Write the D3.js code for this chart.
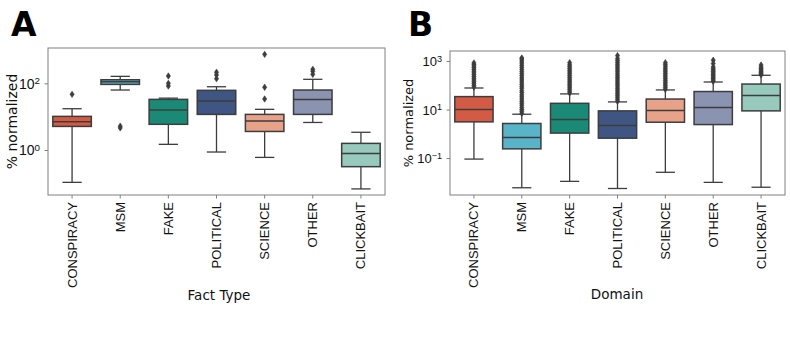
<!DOCTYPE html>
<html>
<head>
<meta charset="utf-8">
<script src="https://cdn.jsdelivr.net/npm/d3@7"></script>
<style>
  body { margin: 0; background: #fff; }
  svg { font-family: "DejaVu Sans", sans-serif; }
</style>
</head>
<body>
<div id="chart"></div>
<script>
const W = 790, H = 351;

const categories = ["CONSPIRACY", "MSM", "FAKE", "POLITICAL", "SCIENCE", "OTHER", "CLICKBAIT"];
const colors = ["#d35b45", "#59b3c9", "#1a8a76", "#3f5685", "#e8a28a", "#8a93b0", "#97c9bc"];

// panel A: Fact Type
const aWhiskLow = [0.107, 63, 1.48, 0.87, 0.6, 6.7, 0.068];
const aQ1 = [5.1, 93, 5.9, 11.7, 3.6, 11.7, 0.316];
const aMedian = [7.0, 112, 15.8, 29.3, 7.4, 33, 0.79];
const aQ3 = [10.2, 128, 33, 61.6, 11.7, 63, 1.58];
const aWhiskHigh = [17.3, 162, 36, 79, 16.6, 132, 3.4];
const aOutliers = [
  [46.8],
  [4.6, 5.2],
  [83, 100, 166],
  [138, 178, 214],
  [34, 76, 741],
  [186, 229, 263],
  []
];
const aTicks = [1, 100];

// panel B: Domain
const bWhiskLow = [0.091, 0.006, 0.011, 0.0056, 0.026, 0.01, 0.0063];
const bQ1 = [3.1, 0.24, 1.07, 0.66, 3.0, 2.4, 8.8];
const bMedian = [10, 0.71, 3.9, 2.2, 9.1, 12, 37.6];
const bQ3 = [34, 2.66, 18, 8.8, 27, 55, 112];
const bWhiskHigh = [77, 6.4, 44, 20.6, 64, 136, 257];
const bOutliers = [
  [85, 100, 120, 140, 165, 195, 230, 270, 320, 380, 450, 530, 620, 720, 830],
  [7, 8.5, 10, 12, 15, 18, 22, 27, 33, 40, 50, 60, 75, 90, 110, 135, 165, 200, 245, 300, 365, 450, 550, 670, 820, 1000, 1200, 1320],
  [48, 56, 66, 78, 92, 108, 128, 150, 178, 210, 250, 295, 350, 410, 490, 580, 690, 850],
  [22, 26, 31, 37, 44, 52, 62, 74, 88, 105, 125, 150, 180, 215, 255, 305, 365, 435, 520, 620, 740, 880, 1050, 1250, 1660],
  [68, 80, 95, 112, 132, 156, 185, 220, 260, 305, 360, 425, 500, 600, 710, 850],
  [145, 165, 190, 215, 245, 280, 320, 365, 420, 480, 560, 780, 1070],
  [270, 300, 340, 380, 430, 490, 560, 680]
];
const bTicks = [0.1, 10, 1000];

const lineColor = "#3d3d3d";

const svg = d3.select("#chart").append("svg")
  .attr("width", W).attr("height", H);

function drawPanel(opt) {
  const {x0, x1, y0, y1, domain, ticks, data, xLabel, xLabelX, xLabelY, yLabelX, letter, letterX, yFont} = opt;

  const x = d3.scaleBand().domain(categories).range([x0, x1]);
  const y = d3.scaleLog().domain(domain).range([y1, y0]);
  const g = svg.append("g");

  // frame
  g.append("rect")
    .attr("x", x0).attr("y", y0)
    .attr("width", x1 - x0).attr("height", y1 - y0)
    .attr("fill", "none").attr("stroke", "#808080").attr("stroke-width", 1);

  // y axis
  const yAxis = g.append("g").attr("transform", `translate(${x0},0)`)
    .call(d3.axisLeft(y).tickValues(ticks).tickSize(3.5).tickPadding(3).tickFormat(""));
  yAxis.select(".domain").remove();
  yAxis.selectAll(".tick line").attr("stroke", "#808080");
  yAxis.selectAll(".tick").each(function(d) {
    const e = Math.round(Math.log10(d));
    const t = d3.select(this).append("text")
      .attr("x", -8).attr("dy", "0.35em")
      .attr("text-anchor", "end")
      .attr("fill", "#111")
      .style("font-size", yFont + "px");
    t.append("tspan").text("10");
    t.append("tspan")
      .attr("dy", "-0.45em")
      .style("font-size", (yFont * 0.7) + "px")
      .text(e < 0 ? "\u2212" + Math.abs(e) : e);
  });

  // x axis
  const xAxis = g.append("g").attr("transform", `translate(0,${y1})`)
    .call(d3.axisBottom(x).tickSize(3.5).tickPadding(4));
  xAxis.select(".domain").remove();
  xAxis.selectAll(".tick line").attr("stroke", "#808080");
  xAxis.selectAll(".tick text")
    .attr("transform", "rotate(-90)")
    .attr("text-anchor", "end")
    .attr("x", -7).attr("y", 0).attr("dy", "0.35em")
    .attr("fill", "#111")
    .style("font-size", "13px");

  // boxes
  const bw = x.bandwidth() * 0.8;
  categories.forEach((c, i) => {
    const cx = x(c) + x.bandwidth() / 2;
    const bx = g.append("g");
    bx.append("line")
      .attr("x1", cx).attr("x2", cx)
      .attr("y1", y(data.q3[i])).attr("y2", y(data.hi[i]))
      .attr("stroke", lineColor).attr("stroke-width", 1.3);
    bx.append("line")
      .attr("x1", cx).attr("x2", cx)
      .attr("y1", y(data.q1[i])).attr("y2", y(data.lo[i]))
      .attr("stroke", lineColor).attr("stroke-width", 1.3);
    [data.hi[i], data.lo[i]].forEach(v => {
      bx.append("line")
        .attr("x1", cx - bw / 4).attr("x2", cx + bw / 4)
        .attr("y1", y(v)).attr("y2", y(v))
        .attr("stroke", lineColor).attr("stroke-width", 1.3);
    });
    bx.append("rect")
      .attr("x", cx - bw / 2).attr("width", bw)
      .attr("y", y(data.q3[i])).attr("height", y(data.q1[i]) - y(data.q3[i]))
      .attr("fill", colors[i]).attr("stroke", lineColor).attr("stroke-width", 1.5);
    bx.append("line")
      .attr("x1", cx - bw / 2).attr("x2", cx + bw / 2)
      .attr("y1", y(data.med[i])).attr("y2", y(data.med[i]))
      .attr("stroke", lineColor).attr("stroke-width", 1.5);
    bx.selectAll("path.flier").data(data.out[i]).enter().append("path")
      .attr("class", "flier")
      .attr("d", "M0,-3.2L2.1,0L0,3.2L-2.1,0Z")
      .attr("transform", v => `translate(${cx},${y(v)})`)
      .attr("fill", lineColor).attr("stroke", lineColor).attr("stroke-width", 0.6);
  });

  // labels
  svg.append("text")
    .attr("x", xLabelX).attr("y", xLabelY)
    .attr("text-anchor", "middle").attr("fill", "#111")
    .style("font-size", "13.5px")
    .text(xLabel);
  svg.append("text")
    .attr("transform", `translate(${yLabelX},${(y0 + y1) / 2}) rotate(-90)`)
    .attr("text-anchor", "middle").attr("fill", "#111")
    .style("font-size", opt.yLabelFont + "px")
    .text("% normalized");
  svg.append("text")
    .attr("x", letterX).attr("y", 36)
    .attr("fill", "#000")
    .style("font-size", "33px").style("font-weight", "bold")
    .text(letter);
}

drawPanel({
  x0: 48, x1: 385, y0: 48, y1: 195,
  domain: [Math.pow(10, -1.35), Math.pow(10, 3.06)],
  ticks: aTicks,
  data: {lo: aWhiskLow, q1: aQ1, med: aMedian, q3: aQ3, hi: aWhiskHigh, out: aOutliers},
  xLabel: "Fact Type", xLabelX: 219, xLabelY: 300,
  yLabelX: 17, yLabelFont: 14, yFont: 14,
  letter: "A", letterX: 11
});

drawPanel({
  x0: 450, x1: 785, y0: 51, y1: 195,
  domain: [Math.pow(10, -2.52), Math.pow(10, 3.41)],
  ticks: bTicks,
  data: {lo: bWhiskLow, q1: bQ1, med: bMedian, q3: bQ3, hi: bWhiskHigh, out: bOutliers},
  xLabel: "Domain", xLabelX: 617, xLabelY: 299,
  yLabelX: 413, yLabelFont: 13, yFont: 13,
  letter: "B", letterX: 408
});
</script>
</body>
</html>
